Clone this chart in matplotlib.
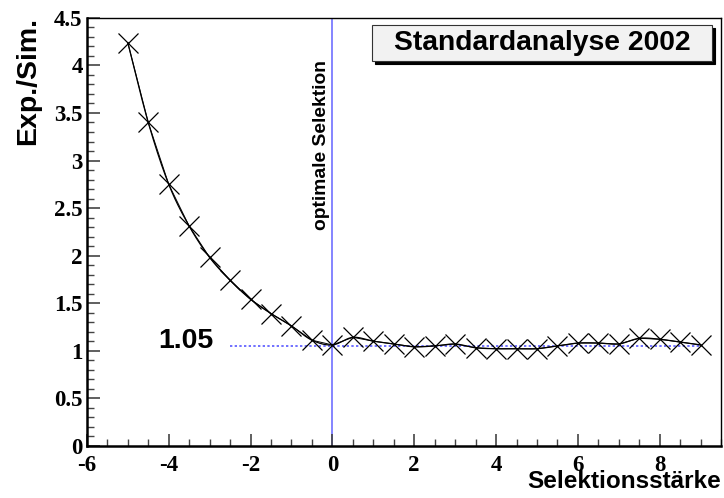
import numpy as np
import matplotlib.pyplot as plt
from matplotlib.patches import FancyBboxPatch
from matplotlib.ticker import MultipleLocator

plt.rcParams['axes.unicode_minus'] = False

# Selektionsstaerke vs. Exp./Sim. ratio
staerke = [-5.0, -4.5, -4.0, -3.5, -3.0, -2.5, -2.0, -1.5, -1.0, -0.5, 0.0,
           0.5, 1.0, 1.5, 2.0, 2.5, 3.0, 3.5, 4.0, 4.5, 5.0, 5.5, 6.0, 6.5,
           7.0, 7.5, 8.0, 8.5, 9.0]
verhaeltnis = [4.24, 3.40, 2.75, 2.31, 1.98, 1.74, 1.54, 1.39, 1.26, 1.11, 1.06,
               1.14, 1.10, 1.07, 1.04, 1.05, 1.07, 1.03, 1.02, 1.02, 1.02, 1.05,
               1.08, 1.08, 1.07, 1.13, 1.12, 1.09, 1.06]
optimum = 0.0
niveau = 1.05
niveau_von, niveau_bis = -2.5, 9.0

blau = '#7070ff'


def catmull_rom(x, y, n=20):
    # smooth curve through all points
    x = np.asarray(x, float)
    y = np.asarray(y, float)
    px = np.concatenate([[2 * x[0] - x[1]], x, [2 * x[-1] - x[-2]]])
    py = np.concatenate([[2 * y[0] - y[1]], y, [2 * y[-1] - y[-2]]])
    t = np.linspace(0, 1, n, endpoint=False)[:, None]
    xs, ys = [], []
    for i in range(1, len(px) - 2):
        for p, out in ((px, xs), (py, ys)):
            p0, p1, p2, p3 = p[i - 1], p[i], p[i + 1], p[i + 2]
            out.append((0.5 * (2 * p1 + (-p0 + p2) * t + (2 * p0 - 5 * p1 + 4 * p2 - p3) * t ** 2
                               + (-p0 + 3 * p1 - 3 * p2 + p3) * t ** 3)).ravel())
    xs.append([x[-1]])
    ys.append([y[-1]])
    return np.concatenate(xs), np.concatenate(ys)


fig = plt.figure(figsize=(7.24, 4.98), dpi=100)
ax = fig.add_axes([0.120, 0.105, 0.876, 0.859])

ax.axvline(optimum, color=blau, lw=1.2, zorder=1)
ax.plot([niveau_von, niveau_bis], [niveau, niveau], color=blau, lw=1.4,
        ls=(0, (1.2, 1.2)), zorder=1)

sx, sy = catmull_rom(staerke, verhaeltnis)
ax.plot(sx, sy, color='black', lw=0.9, zorder=2)
ax.plot(staerke, verhaeltnis, color='black', lw=0.7, marker='x', ms=15, mew=0.9, zorder=3)

ax.set_xlim(-6, 9.5)
ax.set_ylim(0, 4.5)
ax.xaxis.set_major_locator(MultipleLocator(2))
ax.xaxis.set_minor_locator(MultipleLocator(0.5))
ax.yaxis.set_minor_locator(MultipleLocator(0.1))
ax.set_yticks(np.arange(0, 4.51, 0.5))
ax.set_yticklabels(['0', '0.5', '1', '1.5', '2', '2.5', '3', '3.5', '4', '4.5'])
ax.tick_params(which='both', direction='in', top=False, right=False, color='#444444')
ax.tick_params(which='major', length=9, width=1.2)
ax.tick_params(which='minor', length=5, width=1.0)
ax.tick_params(axis='x', pad=7)
ax.tick_params(axis='y', pad=3)
for lab in ax.get_xticklabels() + ax.get_yticklabels():
    lab.set_fontfamily('Liberation Serif')
    lab.set_fontweight('bold')
    lab.set_fontsize(16.5)

for s in ['left', 'bottom']:
    ax.spines[s].set_linewidth(1.8)
for s in ['top', 'right']:
    ax.spines[s].set_linewidth(1.0)

ax.text(-2.9, 1.10, '1.05', ha='right', va='center', fontsize=20.5,
        fontweight='bold', family='Liberation Sans')
ax.text(-0.27, 4.06, 'optimale Selektion', rotation=90, ha='center', va='top',
        fontsize=13.9, fontweight='bold', family='Liberation Sans')

fig.text(28 / 724, 1 - 17 / 498, 'Exp./Sim.', rotation=90, ha='center', va='top',
         fontsize=20.5, fontweight='bold', family='Liberation Sans')
fig.text(721 / 724, 1 - 481 / 498, 'Selektionsstärke', ha='right', va='center',
         fontsize=17.5, fontweight='bold', family='Liberation Sans')

# title box with drop shadow
bx0, by0, bw, bh = 372 / 724, 1 - 61 / 498, 340 / 724, 36 / 498
fig.patches.append(FancyBboxPatch((bx0 + 3 / 724, by0 - 3 / 498), bw, bh, boxstyle='square,pad=0',
                                  transform=fig.transFigure, fc='black', ec='black', lw=0.8))
fig.patches.append(FancyBboxPatch((bx0, by0), bw, bh, boxstyle='square,pad=0',
                                  transform=fig.transFigure, fc='#f2f2f2', ec='#333333', lw=0.8))
fig.text(bx0 + bw / 2, by0 + bh / 2, 'Standardanalyse 2002', ha='center', va='center',
         fontsize=20.3, fontweight='bold', family='Liberation Sans')

fig.savefig('out.png', dpi=100)
